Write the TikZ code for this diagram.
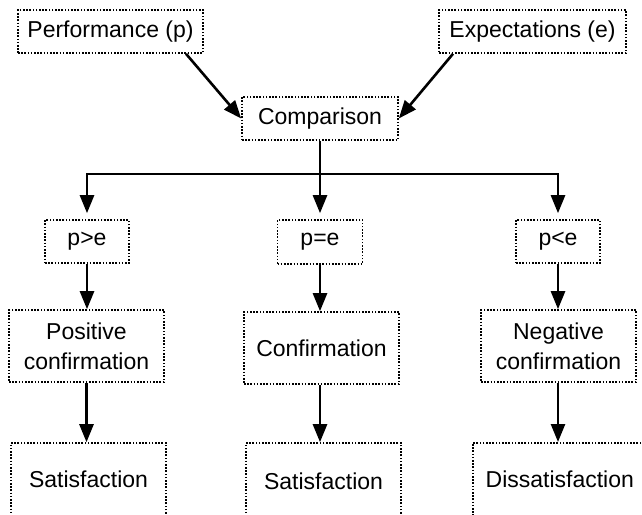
\documentclass[tikz,border=0pt]{standalone}
\usepackage{fontspec}
\setmainfont{Liberation Sans}
\usetikzlibrary{arrows.meta}
\tikzset{
  box/.style={draw, dash pattern=on 1.6pt off 1.6pt, line width=1.6pt, inner sep=0pt,
    align=center, font=\fontsize{23}{30}\selectfont},
  arr/.style={-{Triangle[length=18pt,width=14pt]}, line width=2.6pt},
  ln/.style={line width=2.6pt}
}
\begin{document}
\begin{tikzpicture}[x=1pt,y=1pt]
\clip (0,0) rectangle (642,-514);
\fill[white] (0,0) rectangle (642,-514);
% top row
\node[box, minimum width=185pt, minimum height=43pt] (perf) at (110.5,-31.5) {Performance (p)};
\node[box, minimum width=187pt, minimum height=43pt] (expe) at (532.5,-31.5) {Expectations (e)};
\node[box, minimum width=156pt, minimum height=43pt] (comp) at (320,-118.5) {Comparison};
% comparison results
\node[box, minimum width=84pt, minimum height=43pt] (pgt) at (87,-241.5) {p>e};
\node[box, minimum width=85pt, minimum height=44pt] (peq) at (320,-242) {p=e};
\node[box, minimum width=84pt, minimum height=43pt] (plt) at (558,-241.5) {p<e};
% confirmations
\node[box, minimum width=155pt, minimum height=72pt] (pos) at (86.5,-346) {Positive\\confirmation};
\node[box, minimum width=155pt, minimum height=72pt] (conf) at (321.5,-348) {Confirmation};
\node[box, minimum width=155pt, minimum height=72pt] (neg) at (558.5,-346) {Negative\\confirmation};
% outcomes (their lower edges lie below the picture)
\node[box, minimum width=155pt, minimum height=82pt] (sat1) at (88.5,-484) {\raisebox{10pt}{Satisfaction}};
\node[box, minimum width=155pt, minimum height=82pt] (sat2) at (323.5,-484) {\raisebox{6pt}{Satisfaction}};
\node[box, minimum width=184pt, minimum height=82pt, anchor=north west] (dis) at (472,-442) {\hspace*{-10pt}\raisebox{10pt}{Dissatisfaction}};
% connectors
\draw[arr] ([xshift=75.5pt]perf.south) -- (comp.west);
\draw[arr] ([xshift=-79.5pt]expe.south) -- (comp.east);
\coordinate (bar) at (320,-174);
\draw[ln] (comp.south) -- (bar);
\draw[arr, shorten >=6pt] (bar) -| (pgt.north);
\draw[arr, shorten >=6pt] (bar) -- (peq.north);
\draw[arr, shorten >=6pt] (bar) -| (plt.north);
\draw[arr] (pgt.south) -- (pgt.south |- pos.north);
\draw[arr] (peq.south) -- (peq.south |- conf.north);
\draw[arr] (plt.south) -- (plt.south |- neg.north);
\draw[arr] (pos.south) -- (pos.south |- sat1.north);
\draw[arr] (conf.south -| peq.south) -- (peq.south |- sat2.north);
\draw[arr] (neg.south -| plt.south) -- (plt.south |- dis.north);
\end{tikzpicture}
\end{document}
